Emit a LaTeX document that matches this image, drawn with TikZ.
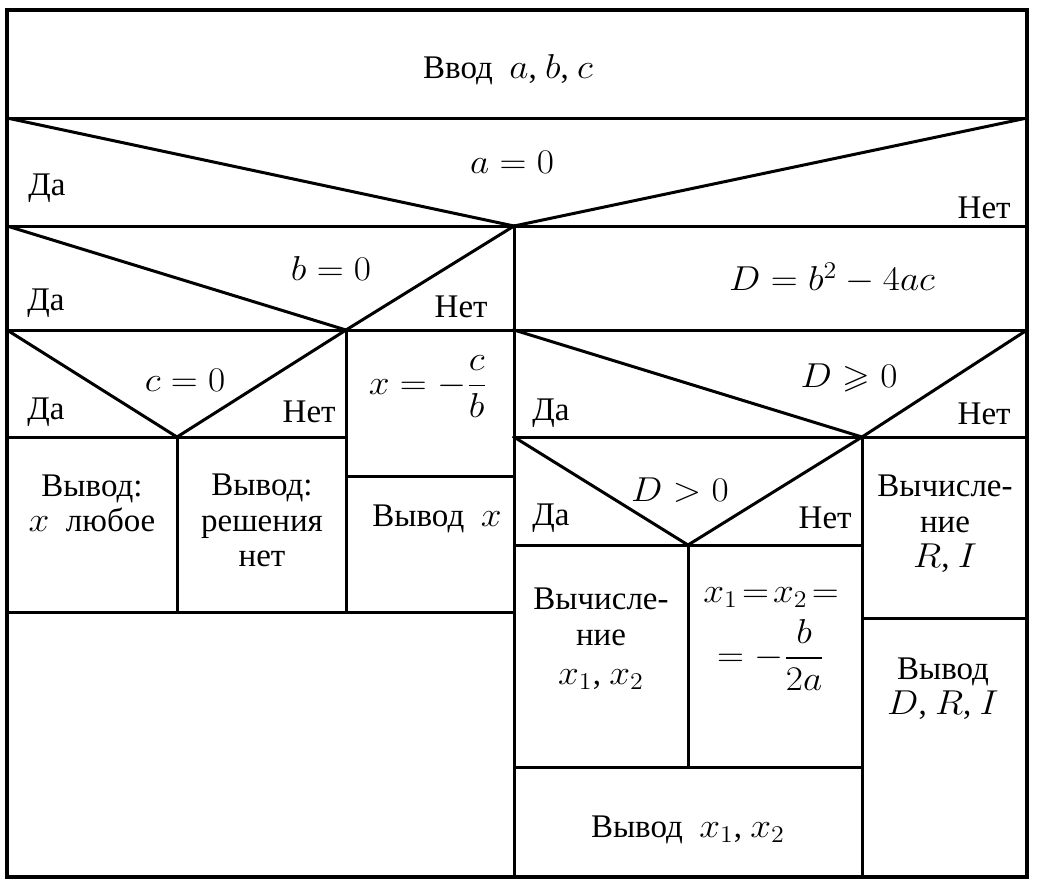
\documentclass[tikz,border=0pt]{standalone}
\usepackage[no-math]{fontspec}
\setmainfont{Liberation Serif}
\usepackage{amsmath,amssymb}
\usepackage{graphicx}
\newcommand{\mm}[1]{\scalebox{1.08}[1]{$#1$}}
\newcommand{\ml}[1]{\begin{tabular}{@{}c@{}}#1\end{tabular}}
\begin{document}
\begin{tikzpicture}[x=0.5pt,y=-0.5pt,
  ln/.style={line width=1.5pt, line cap=rect},
  txt/.style={inner sep=0pt, font=\fontsize{16.5}{17.8}\selectfont},
  lt/.style={txt, anchor=west},
  rt/.style={txt, anchor=east}]
\useasboundingbox (0,0) rectangle (1059,889);
% outer frame
\draw[ln, line width=1.8pt] (7,10) rectangle (1027,877);
% coordinates
\coordinate (A1) at (7,118);  \coordinate (A2) at (1027,118);
\coordinate (AV) at (514,226);
\coordinate (B1) at (7,226);  \coordinate (BV) at (346,330);
\coordinate (C1) at (7,330);  \coordinate (CV) at (177,437);
\coordinate (E1) at (514,330); \coordinate (E2) at (1027,330);
\coordinate (EV) at (862,437);
\coordinate (F1) at (514,437); \coordinate (FV) at (688,545);
% rows
\draw[ln] (A1) -- (A2);
\draw[ln] (7,226) -- (1027,226);
\draw[ln] (A1) -- (AV) -- (A2);
\draw[ln] (514,226) -- (514,877);
% left branch
\draw[ln] (C1) -- (E1);
\draw[ln] (B1) -- (BV) -- (AV);
\draw[ln] (346,330) -- (346,612);
\draw[ln] (7,437) -- (346,437);
\draw[ln] (C1) -- (CV) -- (BV);
\draw[ln] (177,437) -- (177,612);
\draw[ln] (346,476) -- (514,476);
\draw[ln] (7,612) -- (514,612);
% right branch
\draw[ln] (E1) -- (E2);
\draw[ln] (E1) -- (EV) -- (E2);
\draw[ln] (F1) -- (1027,437);
\draw[ln] (862,437) -- (862,877);
\draw[ln] (F1) -- (FV) -- (EV);
\draw[ln] (514,545) -- (862,545);
\draw[ln] (688,545) -- (688,767);
\draw[ln] (514,767) -- (862,767);
\draw[ln] (862,618) -- (1027,618);
% texts
\node[txt] (t1) at (508,70) {Ввод \ \mm{a}, \mm{b}, \mm{c}};
\node[txt] (t2) at (512,162) {\mm{a=0}};
\node[lt] (t3) at (28,188) {Да};
\node[rt] (t4) at (1011,208) {Нет};
\node[txt] (t5) at (331,268) {\mm{b=0}};
\node[lt] (t6) at (27,303) {Да};
\node[rt] (t7) at (488,307) {Нет};
\node[txt] (t8) at (185,380) {\mm{c=0}};
\node[lt] (t9) at (27,412) {Да};
\node[rt] (t10) at (336,412) {Нет};
\node[txt] (t11) at (428,387) {\mm{x=-\dfrac{c}{b}}};
\node[txt] (t12) at (437,519) {Вывод \ \mm{x}};
\node[txt] (t13) at (92,507) {\ml{Вывод:\\ \mm{x} \ любое}};
\node[txt] (t14) at (262,524) {\ml{Вывод:\\ решения\\ нет}};
\node[txt] (t15) at (832,278) {\mm{D=b^2-4ac}};
\node[txt] (t16) at (849,378) {\mm{D\geqslant 0}};
\node[lt] (t17) at (532,413) {Да};
\node[rt] (t18) at (1011,414) {Нет};
\node[txt] (t19) at (680,490) {\mm{D>0}};
\node[lt] (t20) at (532,518) {Да};
\node[rt] (t21) at (852,518) {Нет};
\node[txt] (t22) at (601,640) {\ml{Вычисле-\\ ние\\[2pt] \mm{x_1}, \mm{x_2}}};
\node[txt] (t23) at (771,634) {\ml{\mm{x_1\!=\!x_2\!=}\\[3pt] \mm{=-\dfrac{b}{2a}}}};
\node[txt] (t24) at (945,525) {\ml{Вычисле-\\ ние\\ \mm{R}, \mm{I}}};
\node[txt] (t25) at (943,690) {\ml{Вывод\\ \mm{D}, \mm{R}, \mm{I}}};
\node[txt] (t26) at (688,830) {Вывод \ \mm{x_1}, \mm{x_2}};
\end{tikzpicture}
\end{document}
